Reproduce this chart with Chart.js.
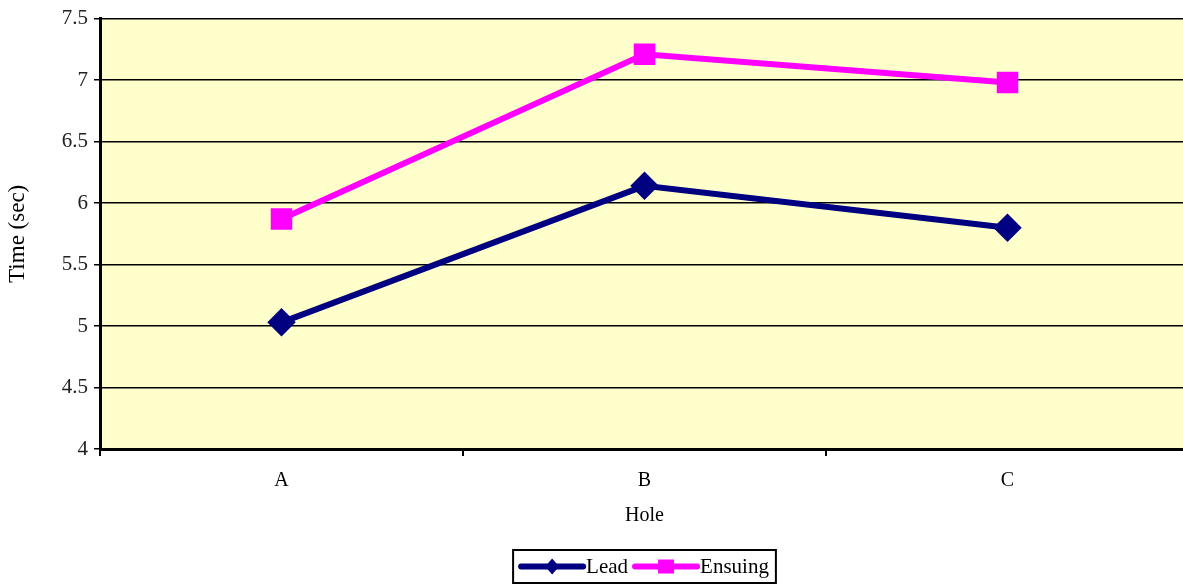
<!DOCTYPE html>
<html>
<head>
<meta charset="utf-8">
<script src="https://cdn.jsdelivr.net/npm/chart.js@4"></script>
<style>
  html, body { margin: 0; padding: 0; background: #fff; overflow: hidden; }
</style>
</head>
<body>
<canvas id="chart" width="1206" height="584"></canvas>
<script>
// data
const holes = ['A', 'B', 'C'];
const lead = [5.03, 6.14, 5.80];
const ensuing = [5.87, 7.21, 6.98];

const serif = '"Liberation Serif", "Times New Roman", serif';

// yellow plot background
const plotBg = {
    id: 'plotBg',
    beforeDraw(chart) {
        const { ctx, chartArea: a } = chart;
        ctx.save();
        ctx.fillStyle = '#FFFFCC';
        ctx.fillRect(a.left, a.top, a.right - a.left, a.bottom - a.top);
        ctx.restore();
    }
};

// boxed legend under the chart, line + marker like the original
const boxLegend = {
    id: 'boxLegend',
    afterDraw(chart) {
        const { ctx, chartArea: a } = chart;
        const cx = (a.left + a.right) / 2;
        const top = 550, h = 33;
        ctx.save();
        ctx.font = '21px ' + serif;
        const items = chart.data.datasets.map(ds => ({ ds, w: ctx.measureText(ds.label).width }));
        const lineW = 62, gap = 3;
        let total = 8;
        items.forEach(it => { total += lineW + gap + it.w + 7; });
        let x = cx - total / 2;
        ctx.lineWidth = 2;
        ctx.strokeStyle = '#000';
        ctx.strokeRect(x, top, total, h);
        x += 8;
        const y = top + h / 2;
        items.forEach(it => {
            ctx.strokeStyle = it.ds.borderColor;
            ctx.lineWidth = 6;
            ctx.lineCap = 'round';
            ctx.beginPath();
            ctx.moveTo(x, y);
            ctx.lineTo(x + lineW, y);
            ctx.stroke();
            ctx.fillStyle = it.ds.borderColor;
            const mx = x + lineW / 2;
            if (it.ds.pointStyle === 'rectRot') {
                ctx.beginPath();
                ctx.moveTo(mx, y - 8); ctx.lineTo(mx + 7, y); ctx.lineTo(mx, y + 8); ctx.lineTo(mx - 7, y);
                ctx.closePath(); ctx.fill();
            } else {
                ctx.fillRect(mx - 8, y - 7, 16, 14);
            }
            ctx.fillStyle = '#000';
            ctx.textBaseline = 'middle';
            ctx.fillText(it.ds.label, x + lineW + gap, y + 1);
            x += lineW + gap + it.w + 7;
        });
        ctx.restore();
    }
};

new Chart(document.getElementById('chart'), {
    type: 'line',
    data: {
        labels: holes,
        datasets: [
            {
                label: 'Lead',
                data: lead,
                borderColor: '#000080',
                backgroundColor: '#000080',
                borderWidth: 6,
                pointStyle: 'rectRot',
                pointRadius: 10,
                pointHoverRadius: 10,
                tension: 0
            },
            {
                label: 'Ensuing',
                data: ensuing,
                borderColor: '#FF00FF',
                backgroundColor: '#FF00FF',
                borderWidth: 6,
                pointStyle: 'rect',
                pointRadius: 11,
                pointHoverRadius: 11,
                tension: 0
            }
        ]
    },
    options: {
        responsive: false,
        animation: false,
        layout: { padding: { top: 9, bottom: 52, right: 0, left: 0 } },
        plugins: {
            legend: { display: false },
            tooltip: { enabled: false }
        },
        scales: {
            x: {
                offset: true,
                grid: {
                    offset: true,
                    drawOnChartArea: false,
                    color: '#000',
                    lineWidth: 2,
                    tickLength: 7
                },
                border: { color: '#000', width: 3 },
                ticks: { color: '#000', font: { family: serif, size: 20 }, padding: 13 },
                title: { display: true, text: 'Hole', color: '#000', font: { family: serif, size: 20 }, padding: { top: 16 } },
                afterFit(scale) { scale.height = 83; }
            },
            y: {
                min: 4,
                max: 7.5,
                ticks: {
                    stepSize: 0.5,
                    color: '#222',
                    font: { family: serif, size: 21 },
                    padding: 6,
                    callback: v => String(v)
                },
                grid: { color: '#000', lineWidth: 1.5, tickLength: 6 },
                border: { color: '#000', width: 3 },
                title: { display: true, text: 'Time (sec)', color: '#000', font: { family: serif, size: 23 }, padding: { bottom: 10 } },
                afterFit(scale) { scale.width = 100; }
            }
        }
    },
    plugins: [plotBg, boxLegend]
});
</script>
</body>
</html>
